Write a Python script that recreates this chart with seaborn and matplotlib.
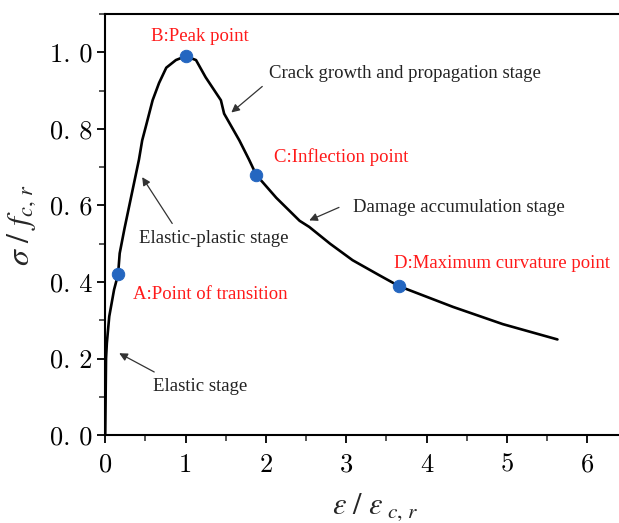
import numpy as np
import pandas as pd
import seaborn as sns
import matplotlib
matplotlib.use("Agg")
import matplotlib.pyplot as plt
from matplotlib.ticker import MultipleLocator

# curve (normalised strain / normalised stress)
strain = [0.0, 0.005, 0.01, 0.02, 0.05, 0.11, 0.16, 0.18, 0.24, 0.32, 0.42, 0.46, 0.51,
          0.59, 0.67, 0.76, 0.88, 1.0, 1.13, 1.25, 1.44, 1.48, 1.67, 1.79, 1.88,
          2.13, 2.42, 2.54, 2.8, 3.08, 3.41, 3.66, 4.33, 4.95, 5.63]
stress = [0.0, 0.1, 0.2, 0.24, 0.31, 0.38, 0.42, 0.475, 0.54, 0.62, 0.72, 0.77, 0.81,
          0.875, 0.92, 0.96, 0.98, 0.99, 0.98, 0.935, 0.875, 0.84, 0.77, 0.72, 0.68,
          0.62, 0.56, 0.544, 0.50, 0.457, 0.418, 0.389, 0.335, 0.29, 0.25]

# characteristic points A, B, C, D
pt_names = ["A", "B", "C", "D"]
pt_x = [0.16, 1.0, 1.88, 3.66]
pt_y = [0.42, 0.99, 0.68, 0.389]

xticks = [0, 1, 2, 3, 4, 5, 6]
yticks = [0.0, 0.2, 0.4, 0.6, 0.8, 1.0]

df = pd.DataFrame({"x": strain, "y": stress})
pts = pd.DataFrame({"name": pt_names, "x": pt_x, "y": pt_y})

sns.set_theme(style="ticks")
plt.rcParams["font.family"] = ["Liberation Serif", "DejaVu Serif"]
plt.rcParams["mathtext.fontset"] = "stix"

fig = plt.figure(figsize=(6.19, 5.23), dpi=100)
ax = fig.add_axes([0.170, 0.168, 0.872, 0.805])

sns.lineplot(data=df, x="x", y="y", sort=False, color="black", linewidth=1.9, ax=ax)
sns.scatterplot(data=pts, x="x", y="y", color="#2466c0", s=80, edgecolor="#2466c0",
                zorder=5, ax=ax)

ax.set_xlim(0, 6.72)
ax.set_ylim(0, 1.1)
ax.set_xticks(xticks)
ax.set_xticklabels([str(v) for v in xticks])
ax.set_yticks(yticks)
ax.set_yticklabels([f"{v:.1f}".replace(".", ". ") for v in yticks])
ax.xaxis.set_minor_locator(MultipleLocator(0.5))
ax.yaxis.set_minor_locator(MultipleLocator(0.1))
ax.tick_params(which="major", direction="out", length=6, width=1.3, labelsize=19,
               colors="black")
ax.tick_params(axis="x", which="major", pad=7)
ax.tick_params(which="minor", direction="out", length=4, width=1.1)
for lab in ax.get_xticklabels() + ax.get_yticklabels():
    lab.set_fontfamily("cmr10")
for s in ["left", "bottom", "top"]:
    ax.spines[s].set_linewidth(1.5)
    ax.spines[s].set_color("black")
ax.spines["right"].set_visible(False)

ax.set_xlabel(r"$\varepsilon\ /\ \varepsilon_{\ c,\,r}$", fontsize=22, labelpad=10)
ax.set_ylabel(r"$\sigma\ /\ f_{c,\,r}$", fontsize=23, labelpad=8)

red = "#ff1a1a"
fs = 13.5
ax.text(1.18, 1.042, "B:Peak point", color=red, fontsize=fs, ha="center", va="center")
ax.text(2.10, 0.726, "C:Inflection point", color=red, fontsize=fs, va="center")
ax.text(3.60, 0.449, "D:Maximum curvature point", color=red, fontsize=fs, va="center")
ax.text(0.35, 0.368, "A:Point of transition", color=red, fontsize=fs, va="center")

arrow = dict(arrowstyle="-|>", color="#333333", lw=0.9, mutation_scale=12,
             shrinkA=0, shrinkB=0)
ax.annotate("", xy=(1.57, 0.843), xytext=(1.955, 0.911), arrowprops=arrow)
ax.text(2.04, 0.945, "Crack growth and propagation stage", color="#222222",
        fontsize=fs, va="center")
ax.annotate("", xy=(2.54, 0.561), xytext=(2.91, 0.595), arrowprops=arrow)
ax.text(3.09, 0.595, "Damage accumulation stage", color="#222222", fontsize=fs,
        va="center")
ax.annotate("", xy=(0.46, 0.674), xytext=(0.834, 0.553), arrowprops=arrow)
ax.text(0.42, 0.514, "Elastic-plastic stage", color="#222222", fontsize=fs,
        va="center")
ax.annotate("", xy=(0.174, 0.214), xytext=(0.61, 0.165), arrowprops=arrow)
ax.text(0.60, 0.128, "Elastic stage", color="#222222", fontsize=fs, va="center")

fig.savefig("out.png", dpi=100)
